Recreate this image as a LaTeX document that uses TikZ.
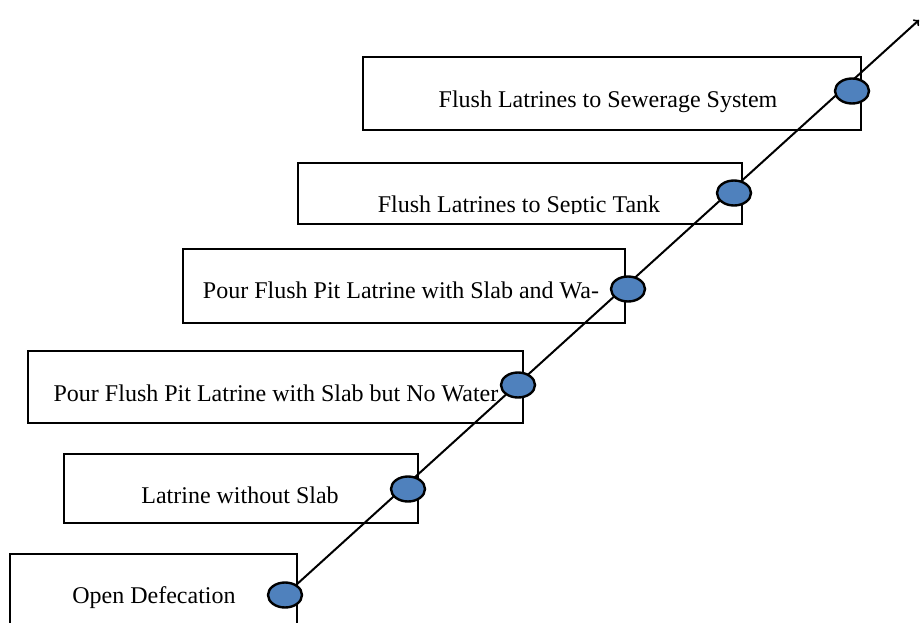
\documentclass[tikz,border=0pt]{standalone}
\usepackage{fontspec}
\setmainfont{Liberation Serif}
\usetikzlibrary{shapes.geometric,backgrounds}
\definecolor{dotblue}{RGB}{79,129,189}

\begin{document}
\begin{tikzpicture}[x=1pt,y=-1pt,
  stage/.style={line width=2pt},
  label/.style={anchor=base,inner sep=0pt,font=\fontsize{24}{28}\selectfont},
  dot/.style={ellipse,draw,line width=2.4pt,fill=dotblue,minimum width=34pt,minimum height=25pt,inner sep=0pt}]
\clip (0,0) rectangle (920,623);
% steps
\draw[stage] (10,554) rectangle (297,640);
\draw[stage] (64,454) rectangle (418,523);
\draw[stage] (28,351) rectangle (523,423);
\draw[stage] (183,249) rectangle (625,323);
\draw[stage] (298,163) rectangle (742,224);
\draw[stage] (363,57) rectangle (861,130);
% labels
\draw(154,603) node[label] (open) {Open Defecation};
\draw(240,503) node[label] (noslab) {Latrine without Slab};
\draw(276,401) node[label] (nowater) {Pour Flush Pit Latrine with Slab but No Water};
\draw(401,298) node[label] (water) {Pour Flush Pit Latrine with Slab and Wa-};
\begin{scope}
\clip (298,163) rectangle (742,213);
\draw(519,212) node[label] (septic) {Flush Latrines to Septic Tank};
\end{scope}
\draw(608,107) node[label] (sewer) {Flush Latrines to Sewerage System};
% ladder
\coordinate (tip) at (919,20);
\node[dot] (e1) at (285,595) {};
\node[dot] (e2) at (408,489) {};
\node[dot] (e3) at (518,385) {};
\node[dot] (e4) at (628,289) {};
\node[dot] (e5) at (734,193) {};
\node[dot] (e6) at (852,91) {};
\begin{pgfonlayer}{background}
\draw[line width=2pt,->] (e1.center) -- (tip);
\end{pgfonlayer}
\end{tikzpicture}
\end{document}
